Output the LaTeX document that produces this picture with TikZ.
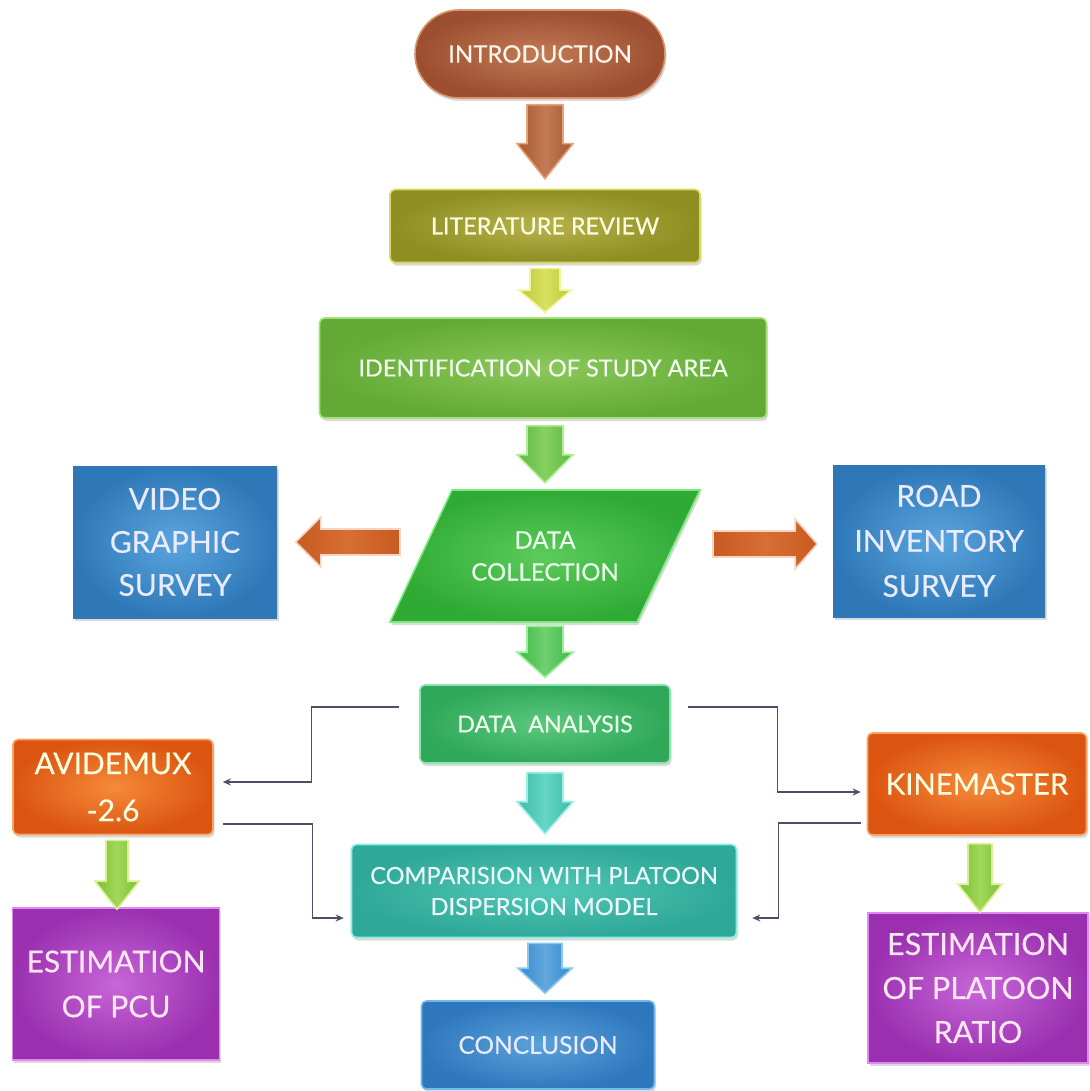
\documentclass[tikz,border=0pt]{standalone}
\usepackage{fontspec}
\setmainfont{Lato}[FakeBold=0.35]
\usetikzlibrary{calc,shadows,arrows.meta}

\definecolor{introOut}{HTML}{9C4F30}\definecolor{introIn}{HTML}{C27A55}\definecolor{introBd}{HTML}{D9946A}
\definecolor{litOut}{HTML}{8E8E22}\definecolor{litIn}{HTML}{B5B24A}\definecolor{litBd}{HTML}{D8D860}
\definecolor{identOut}{HTML}{62AA35}\definecolor{identIn}{HTML}{8CC85A}\definecolor{identBd}{HTML}{A6E07A}
\definecolor{dcOut}{HTML}{2FAA35}\definecolor{dcIn}{HTML}{5CCB5C}\definecolor{dcBd}{HTML}{7EEA7E}
\definecolor{blueOut}{HTML}{2F78B8}\definecolor{blueIn}{HTML}{5AA5DE}
\definecolor{daOut}{HTML}{2FA85A}\definecolor{daIn}{HTML}{5CC87E}\definecolor{daBd}{HTML}{8EE2B0}
\definecolor{compOut}{HTML}{2EA898}\definecolor{compIn}{HTML}{52C8B8}\definecolor{compBd}{HTML}{86F0E2}
\definecolor{conclOut}{HTML}{2F78BE}\definecolor{conclIn}{HTML}{5AA2DA}\definecolor{conclBd}{HTML}{72B8EC}
\definecolor{orOut}{HTML}{DC5510}\definecolor{orIn}{HTML}{F58A3A}\definecolor{orBd}{HTML}{F7A468}
\definecolor{purOut}{HTML}{9A30B0}\definecolor{purIn}{HTML}{C866D8}\definecolor{purBd}{HTML}{E08AF0}
\definecolor{connC}{HTML}{4A4F6A}
% arrow colours
\definecolor{aBrA}{HTML}{A85830}\definecolor{aBrB}{HTML}{C27A55}\definecolor{aBrC}{HTML}{E8A27A}
\definecolor{aYgA}{HTML}{BFC83A}\definecolor{aYgB}{HTML}{D8E060}\definecolor{aYgC}{HTML}{EEF59A}
\definecolor{aGrA}{HTML}{5DB840}\definecolor{aGrB}{HTML}{86D062}\definecolor{aGrC}{HTML}{B0EE90}
\definecolor{aG2A}{HTML}{3FB846}\definecolor{aG2B}{HTML}{70D070}\definecolor{aG2C}{HTML}{98F098}
\definecolor{aTeA}{HTML}{3ABAA8}\definecolor{aTeB}{HTML}{66D6C6}\definecolor{aTeC}{HTML}{9AF0E2}
\definecolor{aBlA}{HTML}{3688CC}\definecolor{aBlB}{HTML}{62A8DE}\definecolor{aBlC}{HTML}{88C8F0}
\definecolor{aLgA}{HTML}{7CBE32}\definecolor{aLgB}{HTML}{A2D85A}\definecolor{aLgC}{HTML}{D8F090}
\definecolor{aOrA}{HTML}{C85A22}\definecolor{aOrB}{HTML}{D86E34}\definecolor{aOrC}{HTML}{F5D5C0}

\newcommand{\BlockDown}[6]{%
\draw[#1] let \p1=(#2), \p2=(#3) in
 (\x1-#4pt,\y1) -- (\x1+#4pt,\y1) -- (\x1+#4pt,\y2+#6pt) -- (\x1+#5pt,\y2+#6pt)
 -- (\x1,\y2) -- (\x1-#5pt,\y2+#6pt) -- (\x1-#4pt,\y2+#6pt) -- cycle;}
\newcommand{\BlockLeft}[6]{%
\draw[#1] let \p1=(#2), \p2=(#3) in
 (\x1,\y1+#4pt) -- (\x1,\y1-#4pt) -- (\x2+#6pt,\y1-#4pt) -- (\x2+#6pt,\y1-#5pt)
 -- (\x2,\y1) -- (\x2+#6pt,\y1+#5pt) -- (\x2+#6pt,\y1+#4pt) -- cycle;}
\newcommand{\BlockRight}[6]{%
\draw[#1] let \p1=(#2), \p2=(#3) in
 (\x1,\y1+#4pt) -- (\x1,\y1-#4pt) -- (\x2-#6pt,\y1-#4pt) -- (\x2-#6pt,\y1-#5pt)
 -- (\x2,\y1) -- (\x2-#6pt,\y1+#5pt) -- (\x2-#6pt,\y1+#4pt) -- cycle;}

\tikzset{
 box/.style={draw, line width=1.6pt, align=center, inner sep=0pt, rounded corners=5pt,
   drop shadow={shadow xshift=1.5pt, shadow yshift=-3pt, opacity=0.28}},
 sqbox/.style={box, rounded corners=0pt, draw=none},
 barrow/.style={draw=#1C, line width=1.6pt, left color=#1A, right color=#1A, middle color=#1B, line join=miter},
 conn/.style={draw=connC, line width=1.3pt, -{Stealth[length=8pt,width=7pt]}},
}

\begin{document}
\begin{tikzpicture}[x=1pt,y=-1pt]
\useasboundingbox (0,0) rectangle (1089,1091);
\fill[white] (0,0) rectangle (1089,1091);

% nodes
\node[box, rounded corners=44pt, draw=introBd, inner color=introIn, outer color=introOut,
  minimum width=250pt, minimum height=88pt, text=white!92!orange,
  font=\fontsize{24}{28}\selectfont] (intro) at (540,54) {INTRODUCTION};
\node[box, draw=litBd, inner color=litIn, outer color=litOut, minimum width=310pt, minimum height=73pt,
  text=white!90!yellow, font=\fontsize{23.4}{28}\selectfont] (lit) at (545,226) {LITERATURE REVIEW};
\node[box, draw=identBd, inner color=identIn, outer color=identOut, minimum width=447pt, minimum height=100pt,
  text=white!95!green, font=\fontsize{23.5}{28}\selectfont] (ident) at (543,368) {IDENTIFICATION OF STUDY AREA};

\draw[draw=dcBd, line width=1.6pt, inner color=dcIn, outer color=dcOut,
  drop shadow={shadow xshift=1.5pt, shadow yshift=-3pt, opacity=0.28}]
  (452,490) -- (700,490) -- (637,622) -- (390,622) -- cycle;
\node[align=center, inner sep=0pt, minimum width=248pt, minimum height=132pt, text=white!92!green,
  font=\fontsize{24}{32}\selectfont] (dc) at (545,556) {DATA\\COLLECTION};

\node[sqbox, inner color=blueIn, outer color=blueOut, minimum width=204pt, minimum height=152pt,
  text=white!92!blue, font=\fontsize{30}{43}\selectfont] (video) at (175,542) {VIDEO\\GRAPHIC\\SURVEY};
\node[sqbox, inner color=blueIn, outer color=blueOut, minimum width=212pt, minimum height=152pt,
  text=white!92!blue, font=\fontsize{30}{45}\selectfont] (road) at (939,541) {ROAD\\INVENTORY\\SURVEY};

\node[box, draw=daBd, inner color=daIn, outer color=daOut, minimum width=250pt, minimum height=78pt,
  text=white!92!green, font=\fontsize{23.2}{28}\selectfont] (da) at (545,724) {DATA\ \ ANALYSIS};
\node[box, draw=compBd, inner color=compIn, outer color=compOut, minimum width=385pt, minimum height=93pt,
  text=white!92!cyan, font=\fontsize{23.6}{31}\selectfont] (comp) at (544,891) {COMPARISION WITH PLATOON\\DISPERSION MODEL};
\node[box, draw=conclBd, inner color=conclIn, outer color=conclOut, minimum width=233pt, minimum height=88pt,
  text=white!92!blue, font=\fontsize{24.5}{28}\selectfont] (concl) at (538,1045) {CONCLUSION};

\node[box, draw=orBd, inner color=orIn, outer color=orOut, minimum width=200pt, minimum height=95pt,
  text=white!88!yellow, font=\fontsize{30}{47}\selectfont] (avid) at (113,787) {AVIDEMUX\\-2.6};
\node[box, draw=orBd, inner color=orIn, outer color=orOut, minimum width=219pt, minimum height=102pt,
  text=white!88!yellow, font=\fontsize{29.3}{34}\selectfont] (kine) at (977,784) {KINEMASTER};

\node[box, rounded corners=0pt, draw=purBd, inner color=purIn, outer color=purOut, minimum width=207pt, minimum height=152pt,
  text=white!90!magenta, font=\fontsize{30}{45}\selectfont] (pcu) at (116,984) {ESTIMATION\\OF PCU};
\node[box, rounded corners=0pt, draw=purBd, inner color=purIn, outer color=purOut, minimum width=220pt, minimum height=150pt,
  text=white!90!magenta, font=\fontsize{30.5}{44}\selectfont] (ratio) at (978,988) {ESTIMATION\\OF PLATOON\\RATIO};

% block arrows
\BlockDown{barrow=aBr}{$(intro.south)+(5,6)$}{$(lit.north)+(0,-10)$}{18}{28}{35}
\BlockDown{barrow=aYg}{$(lit.south)+(0,5)$}{$(ident.north)+(2,-5)$}{15}{26}{22}
\BlockDown{barrow=aGr}{$(ident.south)+(2,7)$}{$(dc.north)+(0,-7)$}{18}{28}{28}
\BlockDown{barrow=aG2}{$(dc.south)+(0,4)$}{$(da.north)+(0,-7)$}{18}{28}{25}
\BlockDown{barrow=aTe}{$(da.south)+(0,9)$}{$(comp.north)+(0,-10)$}{18}{28}{32}
\BlockDown{barrow=aBl}{$(comp.south)+(1,5)$}{$(concl.north)+(0,-7)$}{17}{27}{25}
\BlockDown{barrow=aLg}{$(avid.south)+(4,5)$}{$(pcu.north)+(0,2)$}{11}{22}{28}
\BlockDown{barrow=aLg}{$(kine.south)+(3,8)$}{$(ratio.north)+(0,0)$}{12}{22}{28}

\BlockLeft{barrow=aOr}{$(dc.center)+(-145,-14)$}{$(video.east)+(18,0)$}{13}{25}{25}
\BlockRight{barrow=aOr}{$(dc.center)+(168,-12)$}{$(road.west)+(-15,3)$}{13}{25}{22}

% connectors
\draw[conn] ($(da.west)+(-20,-17)$) -- ++(-88,0) |- ($(avid.east)+(9,-5)$);
\draw[conn] ($(avid.east)+(9,37)$) -- ++(90,0) |- ($(comp.west)+(-7,27)$);
\draw[conn] ($(da.east)+(17,-17)$) -- ++(90,0) |- ($(kine.west)+(-6,8)$);
\draw[conn] ($(kine.west)+(-6,39)$) -- ++(-82,0) |- ($(comp.east)+(15,27)$);
\end{tikzpicture}
\end{document}
